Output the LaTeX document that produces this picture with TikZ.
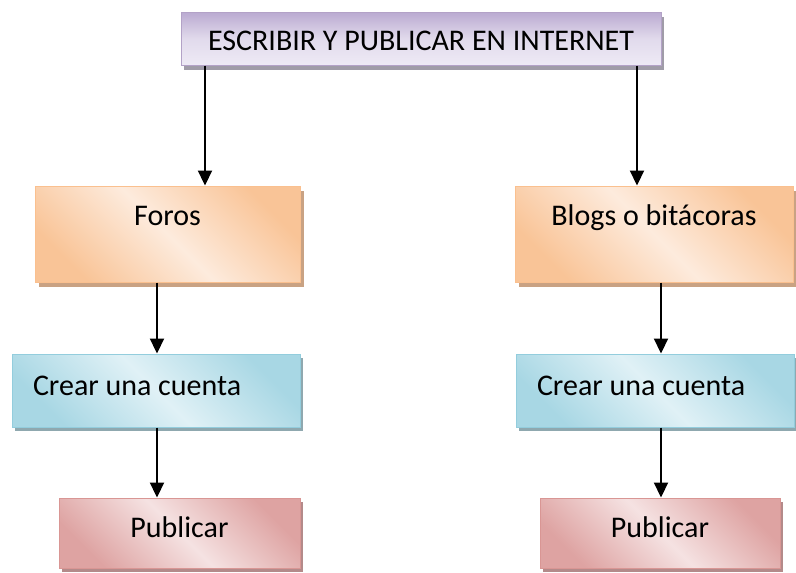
\documentclass[tikz,border=0pt]{standalone}
\usepackage{fontspec}
\setmainfont{Carlito}
\usetikzlibrary{arrows.meta,shadows}
\definecolor{lilaBorde}{HTML}{B3A2C7}
\definecolor{lilaOscuro}{HTML}{BAAAD1}
\definecolor{lilaClaro}{HTML}{EEEAF5}
\definecolor{lilaSombra}{HTML}{A09CA8}
\definecolor{naranjaBorde}{HTML}{FAC08F}
\definecolor{naranjaOscuro}{HTML}{F9C497}
\definecolor{naranjaClaro}{HTML}{FDEBDD}
\definecolor{naranjaSombra}{HTML}{C9A283}
\definecolor{azulBorde}{HTML}{93CDDD}
\definecolor{azulOscuro}{HTML}{A8D7E4}
\definecolor{azulClaro}{HTML}{E0F1F6}
\definecolor{azulSombra}{HTML}{8FA8AF}
\definecolor{rosaBorde}{HTML}{D99694}
\definecolor{rosaOscuro}{HTML}{DEA3A2}
\definecolor{rosaClaro}{HTML}{F5E2E2}
\definecolor{rosaSombra}{HTML}{B48A8A}
\tikzset{%
  caja/.style={inner sep=0pt,line width=1pt,font=\fontsize{30}{35}\selectfont},%
  cajaLila/.style={caja,draw=lilaBorde,top color=lilaOscuro,bottom color=lilaClaro,middle color=lilaClaro!75!lilaOscuro,general shadow={fill=lilaSombra,shadow xshift=3pt,shadow yshift=-5pt}},%
  cajaNaranja/.style={caja,draw=naranjaBorde,left color=naranjaOscuro,right color=naranjaOscuro,middle color=naranjaClaro,shading angle=135,general shadow={fill=naranjaSombra,shadow xshift=4pt,shadow yshift=-5pt}},%
  cajaAzul/.style={caja,draw=azulBorde,left color=azulOscuro,right color=azulOscuro,middle color=azulClaro,shading angle=135,general shadow={fill=azulSombra,shadow xshift=3pt,shadow yshift=-4pt}},%
  cajaRosa/.style={caja,draw=rosaBorde,left color=rosaOscuro,right color=rosaOscuro,middle color=rosaClaro,shading angle=135,general shadow={fill=rosaSombra,shadow xshift=3pt,shadow yshift=-4pt}},%
  flecha/.style={line width=2.2pt,-{Triangle[length=15pt,width=14pt]}}%
}
\begin{document}
\begin{tikzpicture}[x=1pt,y=-1pt]%
\useasboundingbox (0,0) rectangle (796,573);%
% nivel 1
\node[cajaLila,text width=480pt,align=flush center,text height=38pt,text depth=15pt] (titulo) at (421,38.5) {ESCRIBIR Y PUBLICAR EN INTERNET};%
% nivel 2
\node[cajaNaranja,text width=265pt,align=flush center,text height=39pt,text depth=57pt] (foros) at (167.5,234) {Foros};%
\node[cajaNaranja,text width=278pt,align=flush center,text height=39pt,text depth=57pt] (blogs) at (654,234) {Blogs o bit\'acoras};%
% nivel 3
\node[cajaAzul,text width=246pt,inner xsep=21pt,align=flush left,text height=41pt,text depth=32pt] (cuentaF) at (156,390.5) {Crear una cuenta};%
\node[cajaAzul,text width=236pt,inner xsep=21pt,align=flush left,text height=41pt,text depth=32pt] (cuentaB) at (655,390.5) {Crear una cuenta};%
% nivel 4
\node[cajaRosa,text width=241pt,align=flush center,text height=39pt,text depth=31pt] (publicarF) at (179.5,533) {Publicar};%
\node[cajaRosa,text width=240pt,align=flush center,text height=39pt,text depth=31pt] (publicarB) at (660,533) {Publicar};%
%
\draw[flecha] (titulo.south -| 205,0) -- (foros.north -| 205,0);%
\draw[flecha] (titulo.south -| 637,0) -- (blogs.north -| 637,0);%
\draw[flecha] (foros.south -| 157,0) -- (cuentaF.north -| 157,0);%
\draw[flecha] (blogs.south -| 661,0) -- (cuentaB.north -| 661,0);%
\draw[flecha] (cuentaF.south -| 157,0) -- (publicarF.north -| 157,0);%
\draw[flecha] (cuentaB.south -| 661,0) -- (publicarB.north -| 661,0);%
\end{tikzpicture}
\end{document}
